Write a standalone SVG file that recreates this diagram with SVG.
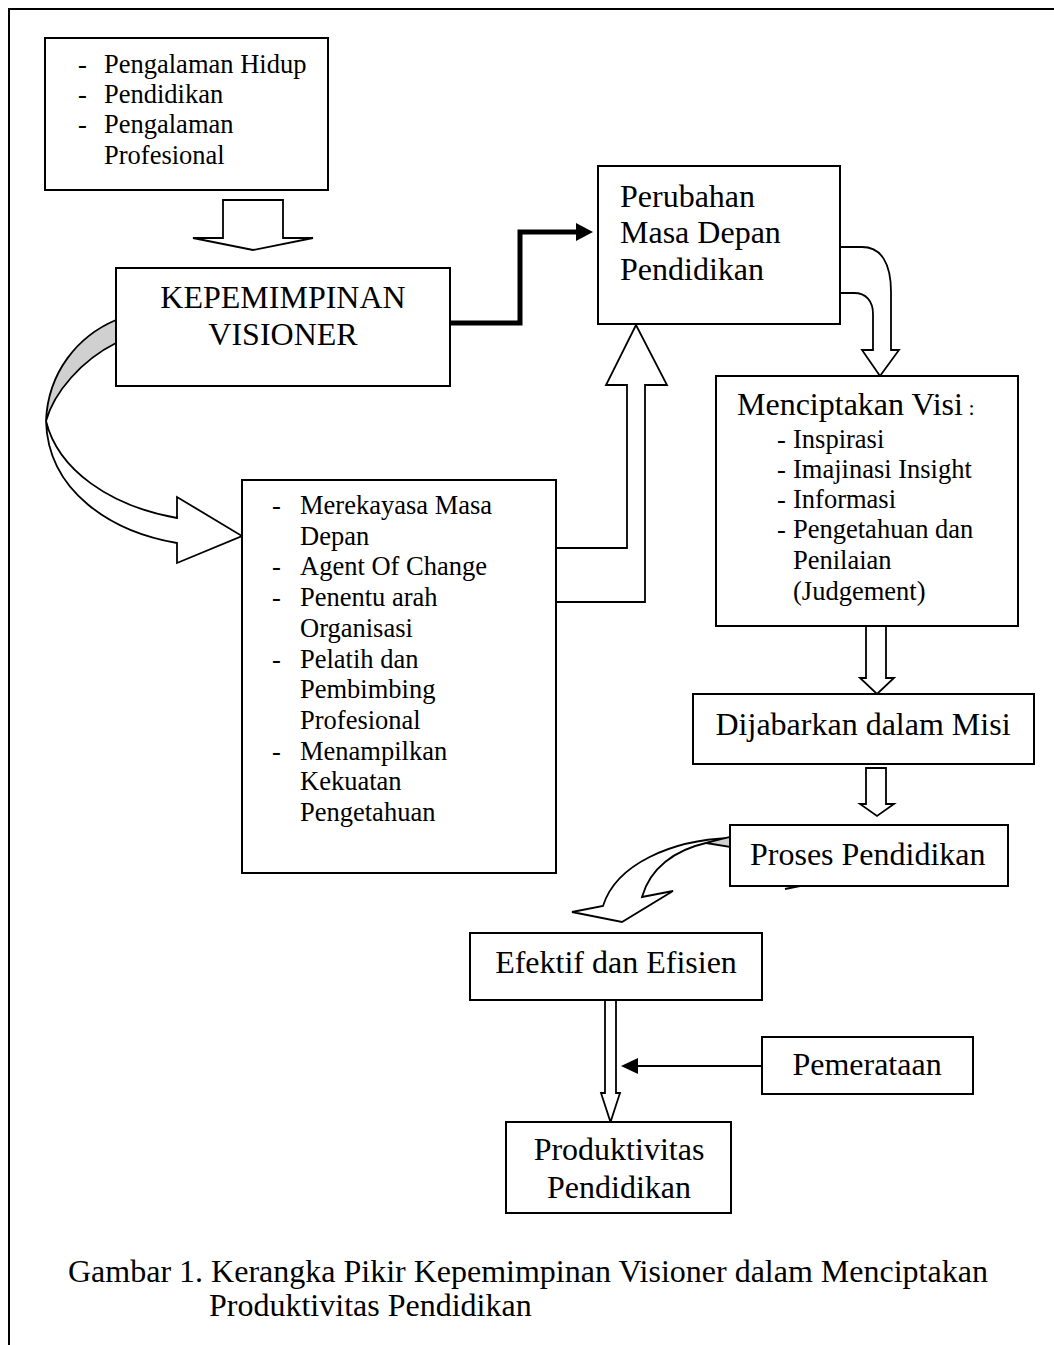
<svg xmlns="http://www.w3.org/2000/svg" width="1054" height="1345" viewBox="0 0 1054 1345">
<style>
.box{fill:#fff;stroke:#000;stroke-width:2}
.arr{fill:#fff;stroke:#000;stroke-width:1.8;stroke-linejoin:miter}
.shade{fill:#d0d0d0;stroke:#000;stroke-width:1.8}
text{font-family:"Liberation Serif","Times New Roman",serif;fill:#000}
.big{font-size:32px}
.sm{font-size:26.5px}
.c{text-anchor:middle}
</style>
<rect x="0" y="0" width="1054" height="1345" fill="#fff"/>
<path d="M9,1345 V9 H1054" fill="none" stroke="#000" stroke-width="2"/>

<g id="connectors">
  <!-- block arrow down from box1 -->
  <path class="arr" d="M223,200 H283 V238 H313 L253,250 L193,238 H223 Z"/>
  <!-- thick connector to Perubahan -->
  <path d="M450,323 H520 V232 H578" fill="none" stroke="#000" stroke-width="5"/>
  <polygon points="576,223 593,232 576,241" fill="#000"/>
  <!-- left curved block arrow -->
  <path class="shade" d="M116,320 C 78,336 48,372 46,421 C 54,392 82,360 116,343 Z"/>
  <path class="arr" d="M46,421 C 48,492 112,532 177,543 L177,563 L242,536 L177,497 L177,518 C 110,506 58,470 46,421 Z"/>
  <!-- upward block arrow from middle box to Perubahan -->
  <path class="arr" d="M556,548 H627 V385 H606 L636,325 L667,385 H645 V602 H556 Z"/>
  <!-- curved arrow Perubahan -> Menciptakan -->
  <path class="arr" d="M840,247 H862 C 881,247 891,263 891,292 V350 H899 L880,376 L862,350 H873 V314 C 873,301 866,293 854,293 H840 Z"/>
  <!-- Menciptakan -> Dijabarkan -->
  <path class="arr" d="M866,626 V678 H860 L877,694 L894,678 H886 V626 Z"/>
  <!-- Dijabarkan -> Proses -->
  <path class="arr" d="M866,768 V804 H860 L877,816 L894,804 H886 V768 Z"/>
  <!-- curved arrow Proses -> Efektif -->
  <path class="arr" d="M730,838 C 672,840 616,864 603,906 L572,912 L622,922 L673,891 L642,897 C 650,868 675,850 706,843 Z"/>
  <path class="shade" d="M706,843 L730,837 L730,847 Z"/>
  <path d="M785,889 L800,886" stroke="#000" stroke-width="1.8" fill="none"/>
  <!-- Efektif -> Produktivitas -->
  <path class="arr" d="M605,1000 V1093 H601 L610.5,1122 L620,1093 H616 V1000 Z"/>
  <!-- Pemerataan -> shaft -->
  <line x1="762" y1="1066" x2="636" y2="1066" stroke="#000" stroke-width="2"/>
  <polygon points="638,1058 621,1066 638,1074" fill="#000"/>
</g>

<g id="node-faktor">
  <rect class="box" x="45" y="38" width="283" height="152"/>
  <text class="sm" x="78" y="73">-</text><text class="sm" x="104" y="73">Pengalaman Hidup</text>
  <text class="sm" x="78" y="103">-</text><text class="sm" x="104" y="103">Pendidikan</text>
  <text class="sm" x="78" y="133">-</text><text class="sm" x="104" y="133">Pengalaman</text>
  <text class="sm" x="104" y="164">Profesional</text>
</g>

<g id="node-kepemimpinan">
  <rect class="box" x="116" y="268" width="334" height="118"/>
  <text class="big c" x="283" y="308">KEPEMIMPINAN</text>
  <text class="big c" x="283" y="345">VISIONER</text>
</g>

<g id="node-perubahan">
  <rect class="box" x="598" y="166" width="242" height="158"/>
  <text class="big" x="620" y="207">Perubahan</text>
  <text class="big" x="620" y="243">Masa Depan</text>
  <text class="big" x="620" y="280">Pendidikan</text>
</g>

<g id="node-peran">
  <rect class="box" x="242" y="480" width="314" height="393"/>
  <text class="sm" x="272" y="514">-</text><text class="sm" x="300" y="514">Merekayasa Masa</text>
  <text class="sm" x="300" y="545">Depan</text>
  <text class="sm" x="272" y="575">-</text><text class="sm" x="300" y="575">Agent Of Change</text>
  <text class="sm" x="272" y="606">-</text><text class="sm" x="300" y="606">Penentu arah</text>
  <text class="sm" x="300" y="637">Organisasi</text>
  <text class="sm" x="272" y="668">-</text><text class="sm" x="300" y="668">Pelatih dan</text>
  <text class="sm" x="300" y="698">Pembimbing</text>
  <text class="sm" x="300" y="729">Profesional</text>
  <text class="sm" x="272" y="760">-</text><text class="sm" x="300" y="760">Menampilkan</text>
  <text class="sm" x="300" y="790">Kekuatan</text>
  <text class="sm" x="300" y="821">Pengetahuan</text>
</g>

<g id="node-visi">
  <rect class="box" x="716" y="376" width="302" height="250"/>
  <text class="big" x="737" y="415">Menciptakan Visi<tspan font-size="22px"> :</tspan></text>
  <text class="sm" x="777" y="448">-</text><text class="sm" x="793" y="448">Inspirasi</text>
  <text class="sm" x="777" y="478">-</text><text class="sm" x="793" y="478">Imajinasi Insight</text>
  <text class="sm" x="777" y="508">-</text><text class="sm" x="793" y="508">Informasi</text>
  <text class="sm" x="777" y="538">-</text><text class="sm" x="793" y="538">Pengetahuan dan</text>
  <text class="sm" x="793" y="569">Penilaian</text>
  <text class="sm" x="793" y="600">(Judgement)</text>
</g>

<g id="node-misi">
  <rect class="box" x="693" y="694" width="341" height="70"/>
  <text class="big c" x="863" y="735">Dijabarkan dalam Misi</text>
</g>

<g id="node-proses">
  <rect class="box" x="730" y="825" width="278" height="61"/>
  <text class="big" x="750" y="865">Proses Pendidikan</text>
</g>

<g id="node-efektif">
  <rect class="box" x="470" y="933" width="292" height="67"/>
  <text class="big c" x="616" y="973">Efektif dan Efisien</text>
</g>

<g id="node-pemerataan">
  <rect class="box" x="762" y="1037" width="211" height="57"/>
  <text class="big c" x="867" y="1075">Pemerataan</text>
</g>

<g id="node-produktivitas">
  <rect class="box" x="506" y="1122" width="225" height="91"/>
  <text class="big c" x="619" y="1160">Produktivitas</text>
  <text class="big c" x="619" y="1198">Pendidikan</text>
</g>

<g id="caption">
  <text class="big" x="68" y="1282">Gambar 1. Kerangka Pikir Kepemimpinan Visioner dalam Menciptakan</text>
  <text class="big" x="209" y="1316">Produktivitas Pendidikan</text>
</g>
</svg>
